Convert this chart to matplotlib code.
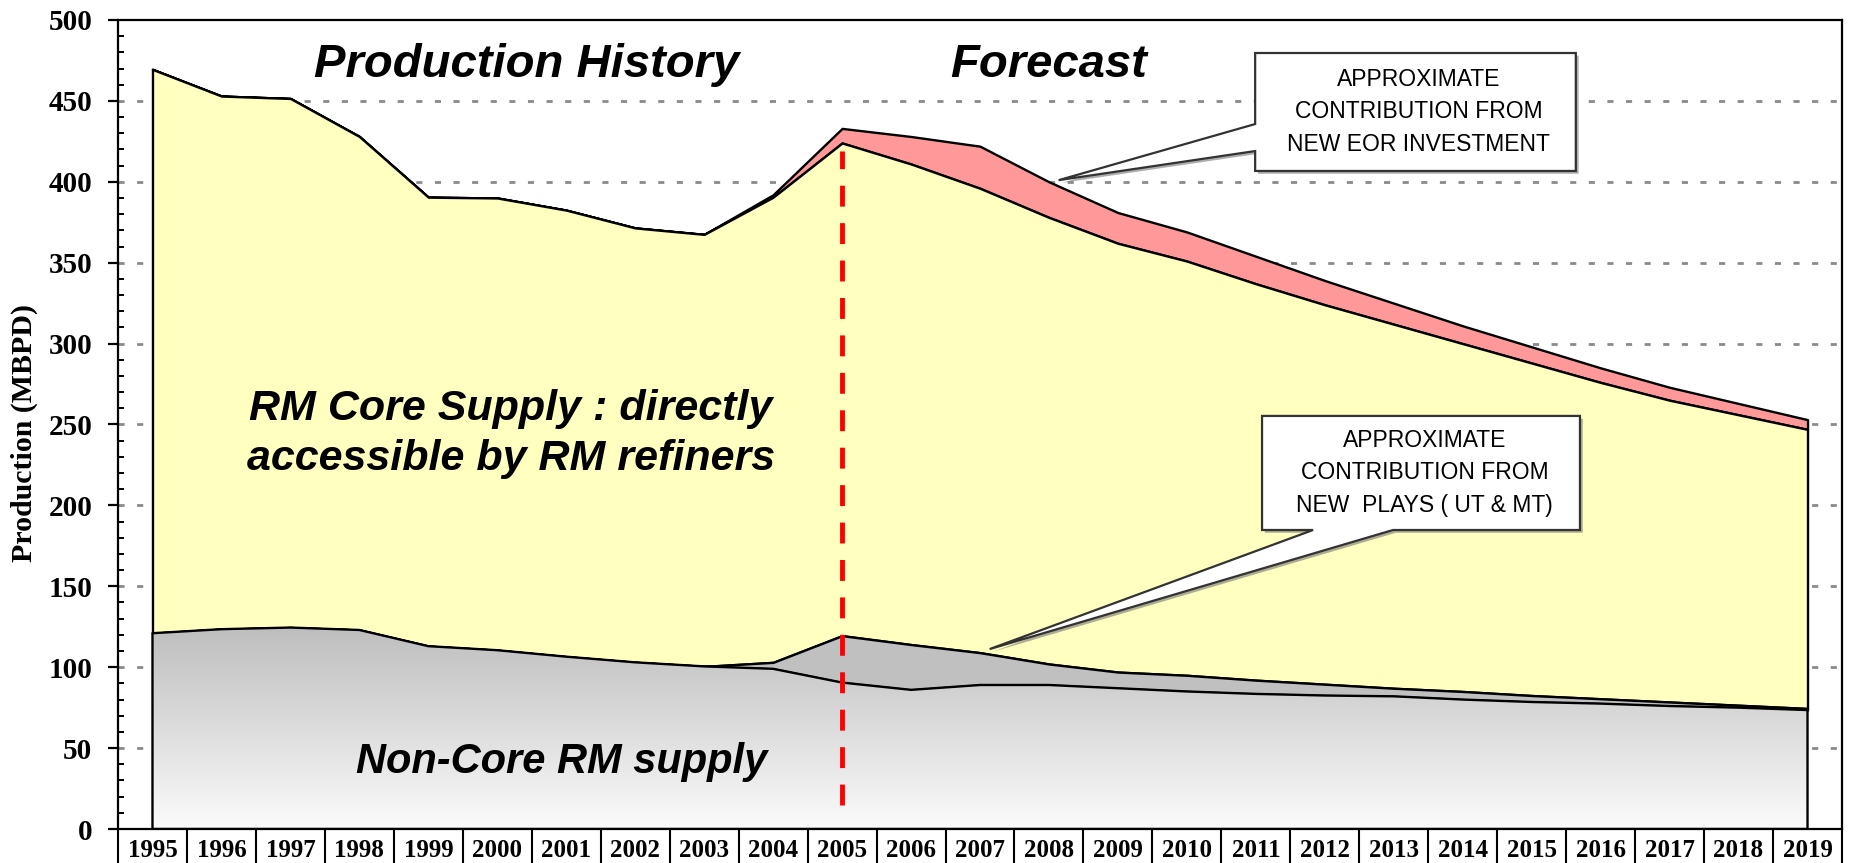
import numpy as np
import matplotlib
matplotlib.use('Agg')
import matplotlib.pyplot as plt
from matplotlib.patches import Polygon
from matplotlib.colors import LinearSegmentedColormap
from matplotlib.ticker import MultipleLocator, FixedLocator
import matplotlib.patheffects as pe

# ---------------- data (MBPD) ----------------
years = [str(y) for y in range(1995, 2020)]
non_core = [121, 123.5, 124.5, 123, 113, 110.5, 106.5, 103, 100.5, 99, 90.5, 86, 89,
            89, 87, 85, 83.5, 82.5, 82, 80, 78.5, 77.5, 76, 75, 73.5]
new_plays = [0, 0, 0, 0, 0, 0, 0, 0, 0, 4, 29, 28, 20, 13, 10, 10, 8.5, 7, 5, 5,
             4, 3, 2.5, 1.5, 1]
core_supply = [348.5, 329.5, 327, 305, 277.5, 279.5, 276, 268.5, 267, 287.5, 304.5,
               297, 287, 276, 265, 256, 245, 234.5, 225, 215, 205.5, 195.5, 186.5,
               179.5, 172.5]
new_eor = [0, 0, 0, 0, 0, 0, 0, 0, 0, 1.5, 9, 17, 26, 22, 19, 18, 17, 15, 13, 11,
           10, 9, 8, 7, 6]
history_end = "2005"

# ---------------- figure ----------------
W, H = 1851, 863
fig = plt.figure(figsize=(W / 100, H / 100), dpi=100)
ax = fig.add_axes([118 / W, 34 / H, (1842 - 118) / W, (829 - 20) / H])

x = np.arange(len(years))
nc = np.array(non_core, float)
npl = nc + np.array(new_plays, float)
core = npl + np.array(core_supply, float)
tot = core + np.array(new_eor, float)

ax.set_xlim(-0.5, len(years) - 0.5)
ax.set_ylim(0, 500)

# gridlines
for v in range(50, 500, 50):
    ax.axhline(v, color='#8a8a8a', lw=2, linestyle=(0, (2.2, 4.5)), zorder=0.5)

edge = dict(edgecolor='black', linewidth=1.7)
ax.fill_between(x, core, tot, facecolor='#FF9999', zorder=1, **edge)
ax.fill_between(x, npl, core, facecolor='#FFFFC0', zorder=1.1, **edge)
ax.fill_between(x, nc, npl, facecolor='#C0C0C0', zorder=1.2, **edge)
poly = ax.fill_between(x, 0, nc, facecolor='none', zorder=1.4, **edge)

cmap = LinearSegmentedColormap.from_list('g', ['#FBFBFB', '#BEBEBE'])
grad = np.linspace(0, 1, 256).reshape(-1, 1)
img = ax.imshow(grad, extent=[-0.5, len(years) - 0.5, 0, max(non_core)], origin='lower',
                aspect='auto', cmap=cmap, zorder=1.3, interpolation='bicubic')
img.set_clip_path(poly.get_paths()[0], transform=ax.transData)
ax.set_xlim(-0.5, len(years) - 0.5)
ax.set_ylim(0, 500)

# red dashed divider history/forecast
xi = years.index(history_end)
ax.plot([xi, xi], [15, 419], color='#FF0000', lw=3.5, linestyle=(0, (4.3, 3.4)), zorder=3,
        solid_capstyle='butt', dash_capstyle='butt')

# ---------------- axes styling ----------------
for s in ax.spines.values():
    s.set_linewidth(1.6)
    s.set_zorder(4)

serif_bold = dict(family='Liberation Serif', weight='bold')
ax.set_yticks(range(0, 501, 50))
ax.yaxis.set_minor_locator(MultipleLocator(10))
ax.tick_params(axis='y', which='major', direction='out', length=7.5, width=1.6, pad=11,
               labelsize=21)
ax.tick_params(axis='y', which='minor', direction='in', length=4, width=1.4)
for lab in ax.get_yticklabels():
    lab.set_fontfamily('Liberation Serif')
    lab.set_fontweight('bold')

ax.set_xticks(x)
ax.set_xticklabels(years)
ax.xaxis.set_minor_locator(FixedLocator(np.arange(-0.5, len(years), 1.0)))
ax.tick_params(axis='x', which='major', length=0, pad=7, labelsize=18)
ax.tick_params(axis='x', which='minor', direction='out', length=26, width=1.5)
for lab in ax.get_xticklabels():
    lab.set_fontfamily('Liberation Serif')
    lab.set_fontweight('bold')

fig.text(24 / W, 1 - 433 / H, 'Production (MBPD)', rotation=90, ha='center', va='center',
         fontsize=21.5, **serif_bold)

# ---------------- text labels ----------------
big = dict(family='Liberation Sans', weight='bold', style='italic', color='black',
           zorder=5)
ax.text(5.43, 465, 'Production History', ha='center', va='baseline', fontsize=34, **big)
ax.text(13.0, 465, 'Forecast', ha='center', va='baseline', fontsize=34, **big)
ax.text(5.2, 252.6, 'RM Core Supply : directly', ha='center', va='baseline',
        fontsize=31, **big)
ax.text(5.2, 222, 'accessible by RM refiners', ha='center', va='baseline',
        fontsize=31, **big)
ax.text(5.93, 34.6, 'Non-Core RM supply', ha='center', va='baseline', fontsize=30, **big)

# ---------------- callouts ----------------
shadow = [pe.SimplePatchShadow(offset=(2, -2), shadow_rgbFace='#777777', alpha=0.6),
          pe.Normal()]

bx0, bx1, by0, by1 = 15.99, 20.64, 406.7, 479.6
eor_poly = [(bx0, by1), (bx1, by1), (bx1, by0), (bx0, by0), (bx0, 419),
            (13.14, 401), (bx0, 435.7)]
p1 = Polygon(eor_poly, closed=True, facecolor='white', edgecolor='#333333', lw=1.6,
             zorder=6)
p1.set_path_effects(shadow)
ax.add_patch(p1)
ax.text((bx0 + bx1) / 2 + 0.05, (by0 + by1) / 2,
        'APPROXIMATE\nCONTRIBUTION FROM\nNEW EOR INVESTMENT',
        ha='center', va='center', fontsize=16.5, family='Liberation Sans',
        linespacing=1.55, zorder=7)

cx0, cx1, cy0, cy1 = 16.09, 20.70, 184.8, 255.3
np_poly = [(cx0, cy1), (cx1, cy1), (cx1, cy0), (17.99, cy0), (12.14, 111.2),
           (16.83, cy0), (cx0, cy0)]
p2 = Polygon(np_poly, closed=True, facecolor='white', edgecolor='#333333', lw=1.6,
             zorder=6)
p2.set_path_effects(shadow)
ax.add_patch(p2)
ax.text((cx0 + cx1) / 2 + 0.05, (cy0 + cy1) / 2,
        'APPROXIMATE\nCONTRIBUTION FROM\nNEW  PLAYS ( UT & MT)',
        ha='center', va='center', fontsize=16.5, family='Liberation Sans',
        linespacing=1.55, zorder=7)

fig.savefig('out.png', dpi=100)
